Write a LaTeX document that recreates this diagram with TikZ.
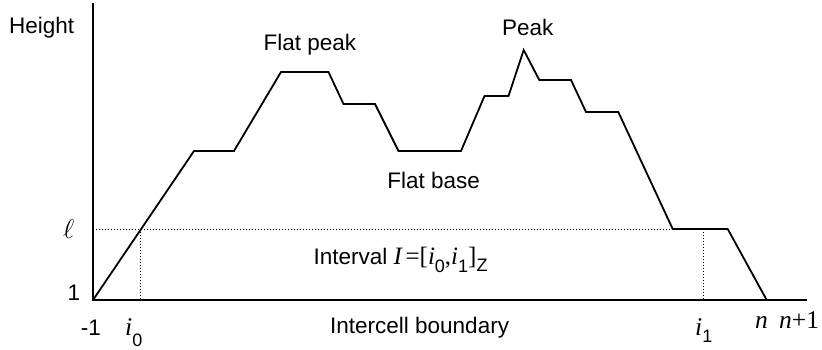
\documentclass[tikz,border=0pt]{standalone}
\usepackage{fontspec}
\usepackage{graphicx}
\setmainfont{Liberation Sans}
\newfontfamily\tms{Liberation Serif}
\newcommand\mysub[2][8pt]{\raisebox{-#1}{\normalfont\fontsize{18}{18}\selectfont #2}}
\begin{document}
\begin{tikzpicture}[x=1pt,y=-1pt,
  lbl/.style={inner sep=0pt, anchor=base west, font=\fontsize{22.5}{27}\selectfont},
  mth/.style={inner sep=0pt, anchor=base west, font=\fontsize{25.5}{29}\selectfont\tms\itshape},
  axisline/.style={line width=2pt, line cap=butt},
  curve/.style={line width=1.8pt, line join=miter},
  guide/.style={line width=1pt, dash pattern=on 1pt off 2pt}]
\useasboundingbox (0,0) rectangle (822,349);
% axes
\coordinate (O) at (93,300);
\coordinate (ytop) at (93,3);
\coordinate (xend) at (806.5,300);
% curve points
\coordinate (p1) at (194,151);
\coordinate (p2) at (234,151);
\coordinate (p3) at (281,72);
\coordinate (p4) at (328.5,72);
\coordinate (p5) at (343.5,104);
\coordinate (p6) at (375,104);
\coordinate (p7) at (398.5,151);
\coordinate (p8) at (461,151);
\coordinate (p9) at (484.5,96);
\coordinate (p10) at (508.5,96);
\coordinate (p11) at (523.7,50);
\coordinate (p12) at (539.3,80);
\coordinate (p13) at (571,80);
\coordinate (p14) at (586,112);
\coordinate (p15) at (618.3,112);
\coordinate (p16) at (672.7,229);
\coordinate (p17) at (727.7,229);
\coordinate (p18) at (766.7,300);
% level line
\coordinate (lv0) at (93,229);
\coordinate (i0top) at (140,229);
\coordinate (i0bot) at (140,300);
\coordinate (i1top) at (703.7,229);
\coordinate (i1bot) at (703.7,300);
\draw[guide] (lv0) -- (p16);
\draw[guide] (i0top) -- (i0bot);
\draw[guide] (i1top) -- (i1bot);
\draw[curve] (O) -- (p1) -- (p2) -- (p3) -- (p4) -- (p5) -- (p6) -- (p7) -- (p8) -- (p9) -- (p10) -- (p11) -- (p12) -- (p13) -- (p14) -- (p15) -- (p16) -- (p17) -- (p18);
\draw[axisline] (ytop) -- (O) -- (xend);
% labels
\node[lbl] (height) at (9,33) {Height};
\node[lbl, anchor=base] (flatpeak) at (310,50) {Flat peak};
\node[lbl, anchor=base] (peak) at (527.7,35) {Peak};
\node[lbl, anchor=base] (flatbase) at (433.7,188.3) {Flat base};
\node[lbl] (interval) at (313.3,264.3) {Interval {\tms\itshape\fontsize{25}{28}\selectfont I}\,{\tms\fontsize{25}{28}\selectfont =[\textit{i}}\mysub{0}{\tms\fontsize{25}{28}\selectfont ,\textit{i}}\mysub{1}{\tms\fontsize{25}{28}\selectfont ]}\mysub[7pt]{Z}};
\node[lbl] (m1) at (80.7,335) {-1};
\node[mth] (i0) at (125,335) {i\mysub[11pt]{0}};
\node[lbl] (boundary) at (330,333) {Intercell boundary};
\node[mth] (i1) at (695,335) {i\mysub[7pt]{1}};
\node[mth] (n) at (755,328) {n};
\node[mth] (np1) at (779,328) {n\upshape+1};
\node[inner sep=0pt, anchor=base west, font=\fontsize{20}{24}\selectfont] (ell) at (63,238.5) {\scalebox{1.3}{$\ell$}};
\node[lbl] (one) at (67.5,300.7) {1};
\end{tikzpicture}
\end{document}
